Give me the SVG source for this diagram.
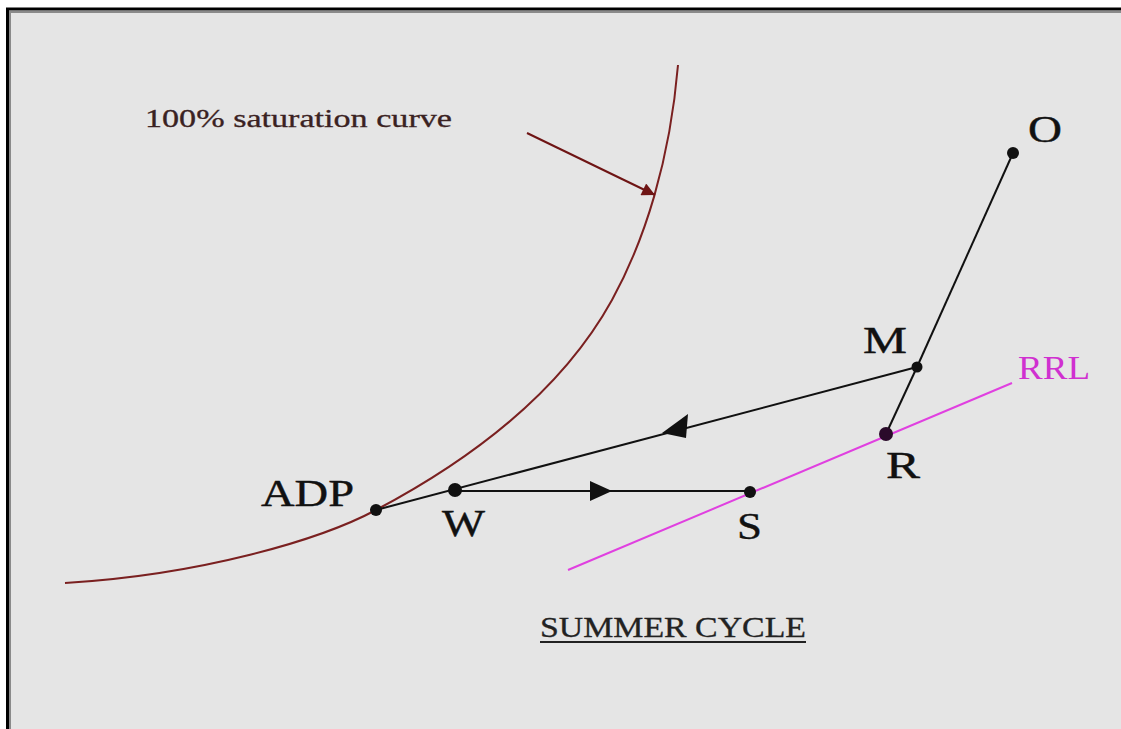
<svg xmlns="http://www.w3.org/2000/svg" width="1121" height="729" viewBox="0 0 1121 729">
<style>
.lbl{font-family:"Liberation Serif","DejaVu Serif",serif;fill:#111;font-size:38px;stroke:#111;stroke-width:0.4}
.ln{stroke:#111;stroke-width:2;fill:none}
.dot{fill:#111}
</style>
<defs>
<marker id="rarr" viewBox="0 0 10 10" refX="10" refY="5" markerWidth="20" markerHeight="13" markerUnits="userSpaceOnUse" orient="auto"><path d="M0,0L10,5L0,10z" fill="#6e1414"/></marker>
</defs>
<rect width="1121" height="729" fill="#fff"/>
<rect x="7" y="8" width="1114" height="721" fill="#e5e5e5"/>
<line x1="6" y1="9" x2="1121" y2="9" stroke="#000" stroke-width="3"/>
<line x1="7.5" y1="8" x2="7.5" y2="729" stroke="#000" stroke-width="3"/>
<line x1="9" y1="12" x2="1121" y2="12" stroke="#8a8a8a" stroke-width="2"/>
<line x1="10" y1="11" x2="10" y2="729" stroke="#8a8a8a" stroke-width="2"/>

<g id="saturation-curve">
<path d="M65,583 C200,575 320,540 376,510 C480,455 565,385 612,300 C645,240 670,160 678,65" fill="none" stroke="#7a2020" stroke-width="2"/>
<text x="145" y="127" font-family="'Liberation Serif',serif" font-size="25" fill="#3a2222" stroke="#3a2222" stroke-width="0.3" textLength="307" lengthAdjust="spacingAndGlyphs">100% saturation curve</text>
</g>

<g id="connectors">
<line x1="527" y1="133" x2="655" y2="195" stroke="#6e1414" stroke-width="2" marker-end="url(#rarr)"/>
<line class="ln" x1="1013" y1="153" x2="917" y2="367"/>
<line class="ln" x1="917" y1="367" x2="886" y2="434"/>
<line class="ln" x1="917" y1="367" x2="376" y2="510"/>
<line class="ln" x1="455" y1="491" x2="750" y2="491"/>
<path d="M662,433 L688,414 L686,438 Z" class="dot"/>
<path d="M612,491 L590,481 L590,501 Z" class="dot"/>
</g>

<g id="RRL">
<line x1="568" y1="570" x2="1012" y2="383" stroke="#e040e0" stroke-width="2"/>
<text x="1018" y="379" font-family="'Liberation Serif',serif" font-size="33" fill="#d030d0" textLength="72" lengthAdjust="spacingAndGlyphs">RRL</text>
</g>

<g id="O"><circle class="dot" cx="1013" cy="153" r="6"/><text class="lbl" x="1028" y="142" textLength="34" lengthAdjust="spacingAndGlyphs">O</text></g>
<g id="M"><circle class="dot" cx="917" cy="367" r="5.5"/><text class="lbl" x="863" y="353" textLength="44" lengthAdjust="spacingAndGlyphs">M</text></g>
<g id="R"><circle cx="886" cy="434" r="7" fill="#2a0a2a"/><text class="lbl" x="886" y="478" textLength="34" lengthAdjust="spacingAndGlyphs">R</text></g>
<g id="ADP"><circle class="dot" cx="376" cy="510" r="6"/><text class="lbl" x="261" y="506" textLength="93" lengthAdjust="spacingAndGlyphs">ADP</text></g>
<g id="W"><circle class="dot" cx="455" cy="490" r="7"/><text class="lbl" x="442" y="536" textLength="43" lengthAdjust="spacingAndGlyphs">W</text></g>
<g id="S"><circle class="dot" cx="750" cy="492" r="6"/><text class="lbl" x="737" y="539" textLength="25" lengthAdjust="spacingAndGlyphs">S</text></g>

<g id="title">
<text x="540" y="637" font-family="'Liberation Serif',serif" font-size="30" fill="#222" stroke="#222" stroke-width="0.3" textLength="266" lengthAdjust="spacingAndGlyphs">SUMMER CYCLE</text>
<line x1="540" y1="642" x2="806" y2="642" stroke="#222" stroke-width="2"/>
</g>
</svg>
